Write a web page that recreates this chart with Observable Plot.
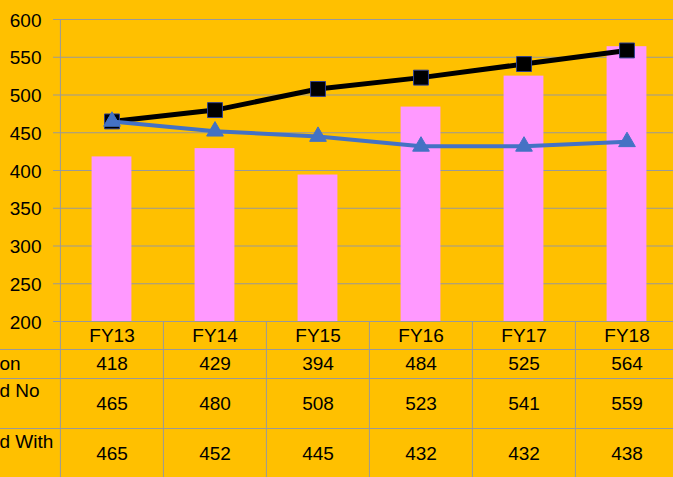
<!DOCTYPE html>
<html>
<head>
<meta charset="utf-8">
<script src="https://cdn.jsdelivr.net/npm/d3@7"></script>
<script src="https://cdn.jsdelivr.net/npm/@observablehq/plot@0.6"></script>
<style>
  html, body { margin: 0; padding: 0; background: #FFC000; overflow: hidden; }
</style>
</head>
<body>
<div id="chart"></div>
<script>
// ---- data ----
const categories = ["FY13", "FY14", "FY15", "FY16", "FY17", "FY18"];
const population = [418, 429, 394, 484, 525, 564];
const projectedNoChange = [465, 480, 508, 523, 541, 559];
const projectedWithChange = [465, 452, 445, 432, 432, 438];
const rowLabels = ["on", "d No", "d With"];
const yTicks = [200, 250, 300, 350, 400, 450, 500, 550, 600];

// ---- layout ----
const W = 673, H = 477;
const mLeft = 59, mTop = 19, mBottom = 156;
const xRange = [59, 678];
const step = (xRange[1] - xRange[0]) / categories.length;
const plotH = H - mTop - mBottom;
const barW = 40;
const grid = "#999999";
const font = "19px";

const table = categories.map((c, i) => ({
  cat: c, pop: population[i], noc: projectedNoChange[i], wc: projectedWithChange[i]
}));

const chart = Plot.plot({
  width: W, height: H,
  marginLeft: mLeft, marginRight: 0, marginTop: mTop, marginBottom: mBottom,
  style: {background: "#FFC000", fontFamily: "'Liberation Sans', Arial, sans-serif", fontSize: font, color: "#000", overflow: "hidden"},
  x: {type: "band", domain: categories, range: xRange, padding: 0, axis: null},
  y: {domain: [200, 600], axis: null},
  marks: [
    // gridlines (with tick stub on left)
    Plot.ruleY(yTicks, {stroke: grid, strokeWidth: 1, insetLeft: -6}),
    // y axis labels
    Plot.axisY(yTicks, {tickSize: 0, tickPadding: 18, fontSize: font, label: null, fill: "#000", dy: 1}),
    // bars
    Plot.barY(table, {x: "cat", y1: 200, y2: "pop", fill: "#FF99FF",
      insetLeft: (step - barW) / 2, insetRight: (step - barW) / 2}),
    // y axis line + left table border
    Plot.ruleX([categories[0]], {x: d => d, dx: -step / 2, stroke: grid, insetBottom: -mBottom}),
    // table vertical separators
    Plot.ruleX(categories.slice(1), {x: d => d, dx: -step / 2, stroke: grid, insetTop: plotH, insetBottom: -mBottom}),
    // table horizontal separators
    Plot.ruleY([200], {dy: 28, stroke: grid, insetLeft: -mLeft}),
    Plot.ruleY([200], {dy: 57, stroke: grid, insetLeft: -mLeft}),
    Plot.ruleY([200], {dy: 107, stroke: grid, insetLeft: -mLeft}),
    // black line with squares
    Plot.lineY(table, {x: "cat", y: "noc", stroke: "#000", strokeWidth: 5}),
    Plot.dot(table, {x: "cat", y: "noc", symbol: "square", r: 8.4, fill: "#000", stroke: "#2F3F8F", strokeWidth: 1}),
    // blue line with triangles
    Plot.lineY(table, {x: "cat", y: "wc", stroke: "#4472C4", strokeWidth: 4}),
    Plot.dot(table, {x: "cat", y: "wc", symbol: "triangle", r: 6.2, fill: "#4472C4", stroke: "#4472C4", strokeWidth: 1}),
    // table header row
    Plot.text(table, {x: "cat", frameAnchor: "bottom", dy: 20, text: "cat", fontSize: font, fill: "#000"}),
    // table value rows
    Plot.text(table, {x: "cat", frameAnchor: "bottom", dy: 48, text: d => String(d.pop), fontSize: font, fill: "#000"}),
    Plot.text(table, {x: "cat", frameAnchor: "bottom", dy: 88, text: d => String(d.noc), fontSize: font, fill: "#000"}),
    Plot.text(table, {x: "cat", frameAnchor: "bottom", dy: 138, text: d => String(d.wc), fontSize: font, fill: "#000"}),
    // row labels (clipped at the left edge)
    Plot.text([rowLabels[0]], {frameAnchor: "bottom-left", dx: -mLeft - 1, dy: 48, text: d => d, textAnchor: "start", fontSize: font, fill: "#000"}),
    Plot.text([rowLabels[1]], {frameAnchor: "bottom-left", dx: -mLeft - 1, dy: 75, text: d => d, textAnchor: "start", fontSize: font, fill: "#000"}),
    Plot.text([rowLabels[2]], {frameAnchor: "bottom-left", dx: -mLeft - 1, dy: 126, text: d => d, textAnchor: "start", fontSize: font, fill: "#000"})
  ]
});
document.getElementById("chart").appendChild(chart);
</script>
</body>
</html>
